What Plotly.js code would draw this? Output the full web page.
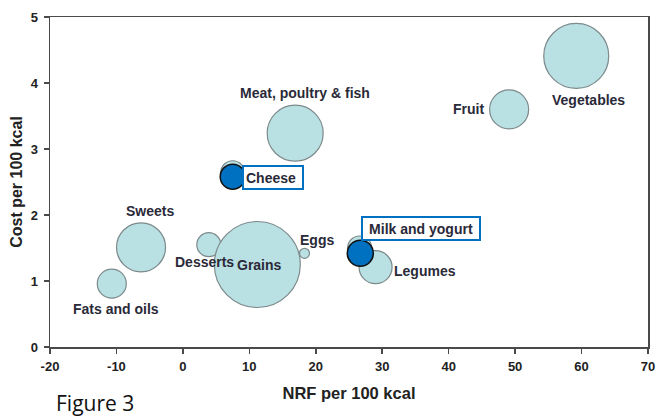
<!DOCTYPE html>
<html>
<head>
<meta charset="utf-8">
<script src="https://cdn.plot.ly/plotly-3.0.1.min.js"></script>
<style>html,body{margin:0;padding:0;background:#fff;}#chart{width:670px;height:419px;}</style>
</head>
<body>
<div id="chart"></div>
<script>
// Data
var categories = ["Fats and oils","Sweets","Desserts","Grains","Eggs","Meat, poultry & fish","Cheese","Milk and yogurt","Legumes","Fruit","Vegetables"];
var nrf  = [-10.7, -6.3, 3.9, 11.2, 18.3, 16.9, 7.5, 26.6, 29.0, 49.1, 59.2];
var cost = [0.96, 1.51, 1.55, 1.25, 1.42, 3.24, 2.64, 1.50, 1.21, 3.60, 4.41];
var bubbleSize = [29, 49, 24, 86, 10, 56, 24, 24, 33, 39, 65];
var highlighted = ["Cheese","Milk and yogurt"];
var highlightNrf = [7.5, 26.7];
var highlightCost = [2.58, 1.42];
var highlightSize = [25, 26];
var xTicks = [-20,-10,0,10,20,30,40,50,60,70];
var xTickText = ["-20","-10","0","10","20","30","40","50","60","70"];
var yTicks = [0,1,2,3,4,5];

var labelFont = {family:"Liberation Sans, Arial, sans-serif", size:14, color:"#2a2a38", weight:700};

// label placement (layout, not data)
var labelPlace = {
  "Fats and oils": [-10.1, 0.58],
  "Sweets": [-4.95, 2.06],
  "Desserts": [3.2, 1.29],
  "Grains": [11.5, 1.24],
  "Eggs": [20.2, 1.62],
  "Meat, poultry & fish": [18.4, 3.85],
  "Legumes": [36.4, 1.15],
  "Fruit": [43.0, 3.61],
  "Vegetables": [61.0, 3.74],
  "Cheese": [13.5, 2.57],
  "Milk and yogurt": [35.8, 1.79]
};

var annotations = categories.map(function(c){
  var p = labelPlace[c];
  var boxed = highlighted.indexOf(c) >= 0;
  var a = {x:p[0], y:p[1], xref:"x", yref:"y", text:c, showarrow:false, font:labelFont};
  if (boxed) {
    a.bordercolor = "#0070c0"; a.borderwidth = 2; a.bgcolor = "#ffffff";
    a.borderpad = 2;
    if (c === "Cheese") { a.width = 54; a.align = "left"; a.height = 17; }
    else { a.width = 112; a.height = 17; }
  }
  return a;
});
annotations.push({xref:"paper", yref:"paper", x:0.006, y:-0.17, xanchor:"left", yanchor:"middle",
  text:"Figure 3", showarrow:false, font:{family:"Open Sans, Liberation Sans, sans-serif", size:21, color:"#111"}});

var traces = [
  {type:"scatter", mode:"markers", x:nrf, y:cost, text:categories, hoverinfo:"text",
   marker:{size:bubbleSize, sizemode:"diameter", color:"#b9e0e3", opacity:1,
           line:{color:"#7d8a8c", width:1.2}}},
  {type:"scatter", mode:"markers", x:highlightNrf, y:highlightCost, text:highlighted, hoverinfo:"text",
   marker:{size:highlightSize, sizemode:"diameter", color:"#0070c0", opacity:1,
           line:{color:"#111", width:1.5}}}
];

var axisFont = {family:"Liberation Sans, Arial, sans-serif", size:13, color:"#222", weight:700};
var layout = {
  width:670, height:419,
  margin:{l:50, r:22, t:17, b:72},
  paper_bgcolor:"#fff", plot_bgcolor:"#fff",
  showlegend:false,
  xaxis:{range:[-20,70], tickvals:xTicks, ticktext:xTickText, ticks:"outside", ticklen:5, tickwidth:1.5, tickcolor:"#4a4a4a",
         showline:true, linecolor:"#4a4a4a", linewidth:1.5, mirror:true, showgrid:false, zeroline:false,
         tickfont:axisFont, ticklabelstandoff:2,
         title:{text:"NRF per 100 kcal", font:{family:"Liberation Sans, Arial, sans-serif", size:16.5, color:"#222", weight:700}, standoff:14}},
  yaxis:{range:[0,5], tickvals:yTicks, ticks:"outside", ticklen:5, tickwidth:1.5, tickcolor:"#4a4a4a",
         showline:true, linecolor:"#4a4a4a", linewidth:1.5, mirror:true, showgrid:false, zeroline:false,
         tickfont:axisFont, ticklabelstandoff:3,
         title:{text:"Cost per 100 kcal", font:{family:"Liberation Sans, Arial, sans-serif", size:16, color:"#222", weight:700}, standoff:4}},
  annotations:annotations
};

Plotly.newPlot("chart", traces, layout, {displayModeBar:false, staticPlot:true});
</script>
</body>
</html>
